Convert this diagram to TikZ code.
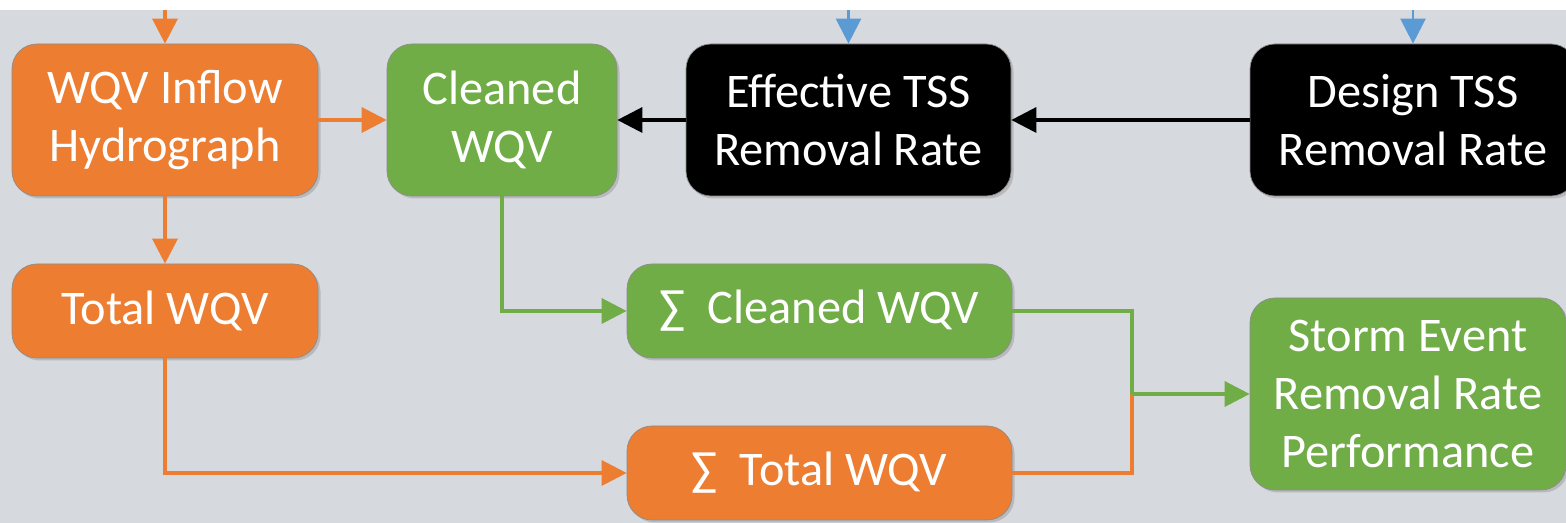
\documentclass[tikz,border=0pt]{standalone}
\usepackage{fontspec}
\setmainfont{Carlito}
\usetikzlibrary{arrows.meta,shapes,shadows}
\definecolor{wqvorange}{RGB}{237, 125, 49}
\definecolor{wqvgreen}{RGB}{112, 173, 71}
\definecolor{wqvblue}{RGB}{91, 155, 213}
\definecolor{slidegrey}{RGB}{214, 217, 221}
\tikzstyle{flowbox}=[draw=black!45,line width=0.4pt,rounded corners=0.5cm,text=white,align=center,font=\fontsize{27.5}{33}\selectfont,inner sep=0pt,drop shadow={opacity=0.35,shadow xshift=0.05cm,shadow yshift=-0.05cm}]
\tikzstyle{orangestep}=[flowbox,fill=wqvorange]
\tikzstyle{greenstep}=[flowbox,fill=wqvgreen]
\tikzstyle{blackstep}=[flowbox,fill=black]
\tikzstyle{orientedarc}=[-{Triangle[length=0.5cm,width=0.5cm]},line width=1.9pt]
\tikzstyle{orangearc}=[orientedarc,wqvorange]
\tikzstyle{greenarc}=[orientedarc,wqvgreen]
\tikzstyle{blackarc}=[orientedarc,black]
\tikzstyle{bluearc}=[orientedarc,wqvblue,line width=1.4pt]
\tikzstyle{orangeline}=[line width=1.9pt,wqvorange]
\tikzstyle{greenline}=[line width=1.9pt,wqvgreen]

\begin{document}
\begin{tikzpicture}
\useasboundingbox (0cm,0cm) rectangle (31.32cm,10.46cm);
\fill[white] (0cm,0cm) rectangle (31.32cm,10.46cm);
\fill[slidegrey] (0cm,0cm) rectangle (31.32cm,10.26cm);

\node[orangestep,minimum width=6.12cm,minimum height=3.04cm] (INFLOW) at (3.30cm,8.06cm) {WQV Inflow\\Hydrograph};
\node[greenstep,minimum width=4.60cm,minimum height=3.04cm] (CLEANED) at (10.04cm,8.06cm) {Cleaned\\WQV};
\node[blackstep,minimum width=6.50cm,minimum height=3.04cm] (EFFTSS) at (16.97cm,8.06cm) {Effective TSS\\Removal Rate};
\node[blackstep,minimum width=6.52cm,minimum height=3.04cm] (DESIGNTSS) at (28.26cm,8.06cm) {Design TSS\\Removal Rate};
\node[orangestep,minimum width=6.12cm,minimum height=1.88cm] (TOTAL) at (3.30cm,4.24cm) {Total WQV};
\node[greenstep,minimum width=7.70cm,minimum height=1.88cm] (SUMCLEANED) at (16.39cm,4.24cm) {\char"2211\ \ Cleaned WQV};
\node[orangestep,minimum width=7.70cm,minimum height=1.88cm] (SUMTOTAL) at (16.39cm,1.00cm) {\char"2211\ \ Total WQV};
\node[greenstep,minimum width=6.32cm,minimum height=3.84cm] (STORM) at (28.16cm,2.58cm) {Storm Event\\Removal Rate\\Performance};

\coordinate (INFLOWTOP) at (3.30cm,10.26cm);
\coordinate (EFFTSSTOP) at (16.97cm,10.26cm);
\coordinate (DESIGNTSSTOP) at (28.26cm,10.26cm);
\coordinate (MERGE) at (22.64cm,2.58cm);

\draw[orangearc] (INFLOWTOP) -- (INFLOW);
\draw[bluearc] (EFFTSSTOP) -- (EFFTSS);
\draw[bluearc] (DESIGNTSSTOP) -- (DESIGNTSS);

\draw[orangearc] (INFLOW) -- (CLEANED);
\draw[blackarc] (EFFTSS) -- (CLEANED);
\draw[blackarc] (DESIGNTSS) -- (EFFTSS);
\draw[orangearc] (INFLOW) -- (TOTAL);
\draw[greenarc] (CLEANED.south) |- (SUMCLEANED.west);
\draw[orangearc] (TOTAL.south) |- (SUMTOTAL.west);

\draw[orangeline] (SUMTOTAL.east) -| (MERGE);
\draw[greenline] (SUMCLEANED.east) -| (MERGE);
\draw[greenarc] (MERGE) -- (STORM.west);

\end{tikzpicture}
\end{document}
